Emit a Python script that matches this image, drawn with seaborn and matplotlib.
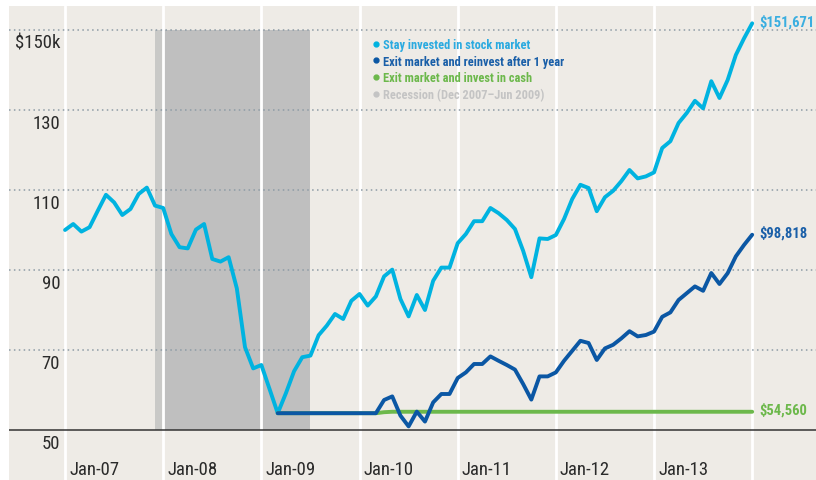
import numpy as np
import pandas as pd
import matplotlib
matplotlib.use('Agg')
import matplotlib.pyplot as plt
from matplotlib.lines import Line2D
from matplotlib import font_manager
import seaborn as sns

# monthly values, Jan-07 .. Jan-14 ($k)
stay_invested = [100.0, 101.5, 99.6, 100.7, 104.8, 108.8, 106.9, 103.75, 105.25, 109.0,
                 110.6, 106.1, 105.5, 99.0, 95.7, 95.4, 100.1, 101.5, 92.75, 92.1,
                 93.2, 85.4, 70.7, 65.4, 66.25, 60.25, 54.2, 59.2, 64.7, 68.2,
                 68.6, 73.7, 76.1, 79.0, 77.75, 82.3, 84.0, 81.1, 83.4, 88.4,
                 90.1, 82.75, 78.4, 83.75, 80.0, 87.3, 90.6, 90.6, 96.7, 99.0,
                 102.2, 102.2, 105.5, 104.2, 102.5, 100.25, 94.8, 88.2, 97.9, 97.75,
                 98.75, 102.75, 107.75, 111.3, 110.5, 104.7, 108.2, 109.8, 112.2, 115.0,
                 112.9, 113.4, 114.4, 120.5, 122.2, 126.75, 129.25, 132.3, 130.4, 137.2,
                 133.0, 137.5, 143.75, 147.9, 151.671]

# both exit strategies start at the Feb-09 low (month 26)
exit_start = 26
exit_reinvest = [54.2] * 13 + [57.5, 58.4, 53.6, 50.9, 54.6, 52.1, 56.9, 59.0, 59.0,
                               63.0, 64.4, 66.5, 66.5, 68.4, 67.3, 66.25, 65.1, 61.5, 57.6,
                               63.4, 63.4, 64.4, 67.3, 69.8, 72.3, 71.75, 67.5, 70.4, 71.3,
                               72.9, 74.7, 73.4, 73.75, 74.6, 78.3, 79.4, 82.5, 84.2, 85.9,
                               84.8, 89.25, 86.5, 89.2, 93.4, 96.25, 98.818]
exit_cash = [54.2] * 13 + [54.45] + [54.56] * 45

end_labels = ['$151,671', '$98,818', '$54,560']
series_names = ['Stay invested in stock market', 'Exit market and reinvest after 1 year',
                'Exit market and invest in cash']
recession_label = 'Recession (Dec 2007\u2013Jun 2009)'
year_labels = ['Jan-07', 'Jan-08', 'Jan-09', 'Jan-10', 'Jan-11', 'Jan-12', 'Jan-13']
y_grid = [70, 90, 110, 130, 150]
y_labels = ['50', '70', '90', '110', '130', '$150k']
y_label_vals = [50, 70, 90, 110, 130, 150]
recession = (11, 30)  # Dec-07 .. end of Jun-09, in months

c_stay = '#00b3e0'
c_reinv = '#0b57a4'
c_cash = '#6cb84b'
c_rec = '#c4c4c4'
bg = '#eeebe6'

# look for a condensed face; otherwise fall back to a plain sans with smaller sizes
fonts = font_manager.fontManager.ttflist
narrow, stretch = None, 'normal'
for fam in ['Liberation Sans Narrow', 'DejaVu Sans Condensed', 'Roboto Condensed',
            'Open Sans Condensed', 'Noto Sans Condensed']:
    if any(f.name == fam for f in fonts):
        narrow = fam
        break
if narrow is None:
    for fam in ['Noto Sans', 'Open Sans', 'Roboto', 'DejaVu Sans']:
        if any(f.name == fam and str(f.stretch) in ('condensed', 'semi-condensed', 'extra-condensed')
               for f in fonts):
            narrow, stretch = fam, 'condensed'
            break
if narrow is None:
    narrow = 'Roboto' if any(f.name == 'Roboto' for f in fonts) else 'DejaVu Sans'
    scale = 0.88
else:
    scale = 1.0

sns.set_style('white')
plt.rcParams['font.family'] = [narrow, 'DejaVu Sans']
plt.rcParams['font.stretch'] = stretch

df_stay = pd.DataFrame({'month': np.arange(len(stay_invested)), 'value': stay_invested})
df_reinv = pd.DataFrame({'month': np.arange(len(exit_reinvest)) + exit_start, 'value': exit_reinvest})
df_cash = pd.DataFrame({'month': np.arange(len(exit_cash)) + exit_start, 'value': exit_cash})

fig = plt.figure(figsize=(8.16, 4.81), dpi=100)
ax = fig.add_axes([9 / 816, 0, 807 / 816, 474 / 481])
ax.set_facecolor(bg)
for s in ax.spines.values():
    s.set_visible(False)
ax.set_xticks([])
ax.set_yticks([])
ax.set_xlim(-6.85, 91.8)
ax.set_ylim(37.5, 156)

# recession shading, only between 50 and 150
ax.fill_between([recession[0], recession[0] + 1], 50, 150, color='#c9c9c7', lw=0, zorder=1)
ax.fill_between([recession[0] + 1, recession[1]], 50, 150, color='#bfbfbf', lw=0, zorder=1)

for m in range(0, 85, 12):
    ax.axvline(m, color='white', lw=2, zorder=2)
for v in y_grid:
    ax.axhline(v, color='#8d9ba5', lw=1.1, ls=(0, (1, 2.2)), zorder=2)
ax.axhline(50, color='#333333', lw=1.1, zorder=2)

sns.lineplot(data=df_stay, x='month', y='value', color=c_stay, lw=2.8, ax=ax, zorder=4)
sns.lineplot(data=df_cash, x='month', y='value', color=c_cash, lw=2.8, ax=ax, zorder=4)
sns.lineplot(data=df_reinv, x='month', y='value', color=c_reinv, lw=2.8, ax=ax, zorder=5)
ax.set_xlabel('')
ax.set_ylabel('')

# axis labels drawn inside the panel
for v, lab in zip(y_label_vals, y_labels):
    ax.text(-0.6, v - 3.2, lab, ha='right', va='center', fontsize=13.5 * scale, color='#2a2a2a')
for i, lab in enumerate(year_labels):
    ax.text(i * 12 + 0.5, 40.2, lab, ha='left', va='center', fontsize=13.5 * scale, color='#2a2a2a')

# end values
for vals, lab, c in zip([stay_invested, exit_reinvest, exit_cash], end_labels,
                        ['#3aaee0', '#1a5fa8', c_cash]):
    ax.text(84.9, vals[-1] + 0.6, lab, ha='left', va='center', fontsize=10.5 * scale,
            fontweight='bold', color=c)

handles = [Line2D([], [], ls='', marker='o', markersize=3.5, color=c)
           for c in [c_stay, c_reinv, c_cash, c_rec]]
ax.legend(handles, series_names + [recession_label], loc='upper left',
          bbox_to_anchor=(0.4507, 0.9325), frameon=False, handlelength=0.5,
          handletextpad=0.3, labelspacing=0.3 / scale, borderpad=0, borderaxespad=0,
          labelcolor=['#2aaae0', '#1a5fa8', c_cash, c_rec],
          prop={'family': narrow, 'stretch': stretch, 'weight': 'bold', 'size': 8.9 * scale})

plt.savefig('out.png', dpi=100)
